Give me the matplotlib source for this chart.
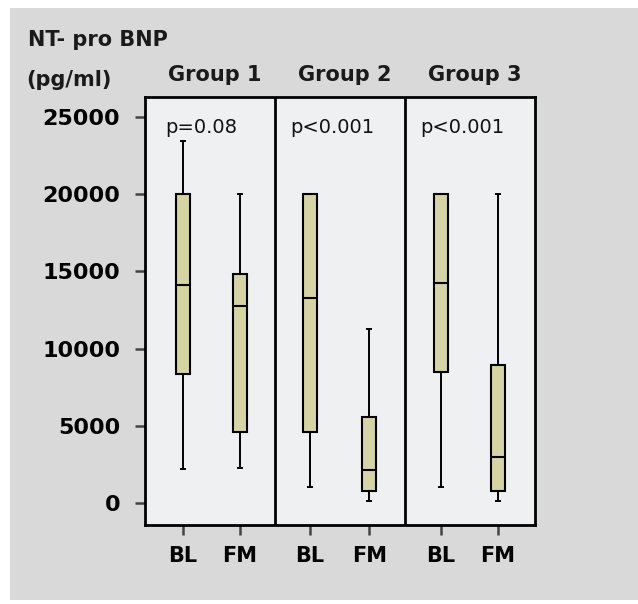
import matplotlib.pyplot as plt
from matplotlib.patches import Rectangle

# values (pg/ml)
groups = ["Group 1", "Group 2", "Group 3"]
p_values = ["p=0.08", "p<0.001", "p<0.001"]
visits = ["BL", "FM"]
# order per group: BL, FM
whisker_low = [2200, 2270, 1040, 100, 1040, 100]
q1 = [8350, 4600, 4600, 780, 8480, 780]
medians = [14100, 12750, 13270, 2140, 14240, 2980]
q3 = [20000, 14820, 20000, 5570, 20000, 8930]
whisker_high = [23400, 20000, 20000, 11260, 20000, 20000]

positions = [0.585, 1.46, 2.54, 3.45, 4.55, 5.43]
yticks = [0, 5000, 10000, 15000, 20000, 25000]

fig = plt.figure(figsize=(6.38, 6.04), dpi=100, facecolor="white")
fig.patches.append(Rectangle((0.015, 0.007), 0.985, 0.98, transform=fig.transFigure,
                             facecolor="#d9d9d9", edgecolor="none", zorder=-5))

ax = fig.add_axes([0.2273, 0.1308, 0.6113, 0.7086])
ax.set_facecolor("#eef0f2")

stats = []
for i in range(len(positions)):
    stats.append({"whislo": whisker_low[i], "q1": q1[i], "med": medians[i],
                  "q3": q3[i], "whishi": whisker_high[i], "fliers": []})

ax.bxp(stats, positions=positions, widths=0.215, capwidths=0.06,
       patch_artist=True, showfliers=False,
       boxprops=dict(facecolor="#d6d4a4", edgecolor="black", linewidth=1.5),
       medianprops=dict(color="black", linewidth=1.5),
       whiskerprops=dict(color="black", linewidth=1.4),
       capprops=dict(color="black", linewidth=1.4))

for xd in [2, 4]:
    ax.axvline(xd, color="black", linewidth=2)

ax.set_xlim(0, 6)
ax.set_ylim(-1424, 26280)

ax.set_yticks(yticks)
ax.set_yticklabels([str(v) for v in yticks], fontsize=16, fontweight="bold")
ax.set_xticks(positions)
ax.set_xticklabels(visits * 3, fontsize=15, fontweight="bold")
ax.tick_params(axis="both", length=7, width=1.8, color="#444444")
ax.tick_params(axis="y", pad=11)
ax.tick_params(axis="x", pad=8)
for s in ax.spines.values():
    s.set_linewidth(2)

for i, p in enumerate(p_values):
    ax.text(2 * i + (0.31 if i == 0 else 0.24), 24300, p, fontsize=14,
            ha="left", va="center", color="#111111")

for i, g in enumerate(groups):
    fig.text((145 + 130 * i + 70) / 638, 1 - 75 / 604, g, fontsize=15,
             fontweight="bold", ha="center", va="center", color="#1a1a1a")

fig.text(28 / 638, 1 - 40 / 604, "NT- pro BNP", fontsize=15, fontweight="bold",
         ha="left", va="center", color="#1a1a1a")
fig.text(26 / 638, 1 - 80 / 604, "(pg/ml)", fontsize=15, fontweight="bold",
         ha="left", va="center", color="#1a1a1a")

fig.savefig("out.png", dpi=100, facecolor=fig.get_facecolor())
